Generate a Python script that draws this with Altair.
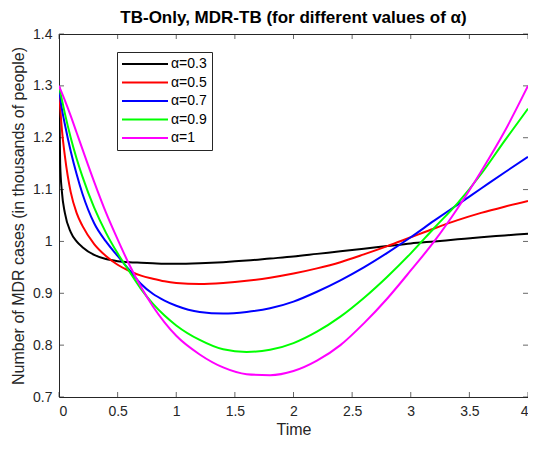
import altair as alt
import pandas as pd

# ---- data ----
t = [0, 0.01, 0.025, 0.05, 0.1, 0.15, 0.2, 0.3, 0.4, 0.5, 0.6, 0.7, 0.8, 0.9, 1.0,
     1.2, 1.4, 1.6, 1.8, 2.0, 2.2, 2.4, 2.6, 2.8, 3.0, 3.2, 3.4, 3.6, 3.8, 4.0]

alpha_03 = [1.30, 1.15, 1.095, 1.055, 1.018, 1.0, 0.989, 0.974, 0.966, 0.962, 0.960, 0.959,
            0.958, 0.957, 0.957, 0.958, 0.960, 0.963, 0.967, 0.971, 0.976, 0.981, 0.986,
            0.991, 0.996, 1.000, 1.004, 1.008, 1.0115, 1.015]
alpha_05 = [1.30, 1.26, 1.215, 1.165, 1.095, 1.055, 1.03, 0.995, 0.972, 0.955, 0.943, 0.934,
            0.928, 0.923, 0.920, 0.918, 0.920, 0.924, 0.930, 0.938, 0.948, 0.960, 0.975,
            0.991, 1.008, 1.025, 1.041, 1.055, 1.067, 1.078]
alpha_07 = [1.30, 1.278, 1.255, 1.226, 1.174, 1.130, 1.092, 1.035, 1.0, 0.972, 0.945, 0.918,
            0.899, 0.886, 0.876, 0.864, 0.861, 0.864, 0.871, 0.884, 0.903, 0.925, 0.950,
            0.978, 1.008, 1.040, 1.071, 1.102, 1.133, 1.163]
alpha_09 = [1.30, 1.289, 1.273, 1.247, 1.200, 1.160, 1.125, 1.065, 1.017, 0.977, 0.942, 0.908,
            0.880, 0.857, 0.838, 0.810, 0.792, 0.787, 0.791, 0.804, 0.826, 0.855, 0.891,
            0.932, 0.977, 1.026, 1.074, 1.130, 1.194, 1.256]
alpha_10 = [1.30, 1.294, 1.286, 1.272, 1.242, 1.210, 1.178, 1.115, 1.056, 1.004, 0.955, 0.912,
            0.875, 0.844, 0.818, 0.782, 0.757, 0.744, 0.742, 0.750, 0.770, 0.800, 0.842,
            0.890, 0.944, 1.000, 1.064, 1.135, 1.212, 1.30]

series_names = ["α=0.3", "α=0.5", "α=0.7", "α=0.9", "α=1"]
series_colors = ["#000000", "#FF0000", "#0000FF", "#00FF00", "#FF00FF"]
x_ticks = [0, 0.5, 1, 1.5, 2, 2.5, 3, 3.5, 4]
y_ticks = [0.7, 0.8, 0.9, 1.0, 1.1, 1.2, 1.3, 1.4]

rows = []
for name, vals in zip(series_names, [alpha_03, alpha_05, alpha_07, alpha_09, alpha_10]):
    for i, (tt, v) in enumerate(zip(t, vals)):
        rows.append({"Time": tt, "value": v, "series": name, "order": i})
df = pd.DataFrame(rows)

FONT = "Liberation Sans"
AX = "#262626"

xs = alt.Scale(domain=[0, 4], nice=False, zero=False)
ys = alt.Scale(domain=[0.7, 1.4], nice=False, zero=False)

lines = alt.Chart(df).mark_line(strokeWidth=2, interpolate="monotone", clip=True).encode(
    x=alt.X("Time:Q", scale=xs,
            axis=alt.Axis(title="Time", values=x_ticks, format=".1~f", grid=False,
                          ticks=False, domain=False, labelPadding=7,
                          titlePadding=3)),
    y=alt.Y("value:Q", scale=ys,
            axis=alt.Axis(title="Number of MDR cases (in thousands of people)",
                          values=y_ticks, format=".1~f", grid=False, ticks=False,
                          domain=False, labelPadding=7, titlePadding=6)),
    color=alt.Color("series:N",
                    scale=alt.Scale(domain=series_names, range=series_colors),
                    legend=alt.Legend(title=None, orient="none", legendX=58, legendY=18,
                                      symbolType="M-7,0H39", symbolSize=4,
                                      symbolStrokeWidth=2, labelFontSize=14,
                                      labelFont=FONT, labelColor="#000000",
                                      padding=5, rowPadding=4.5, labelOffset=35,
                                      strokeColor=AX, fillColor="white")),
    order="order:Q",
)

xt = pd.DataFrame({"x": x_ticks})
yt = pd.DataFrame({"y": y_ticks})

tick_style = dict(size=5, thickness=1, color=AX)
bottom_ticks = alt.Chart(xt).mark_tick(orient="vertical", yOffset=-2.5, **tick_style).encode(
    x=alt.X("x:Q", scale=xs), y=alt.datum(0.7))
top_ticks = alt.Chart(xt).mark_tick(orient="vertical", yOffset=2.5, **tick_style).encode(
    x=alt.X("x:Q", scale=xs), y=alt.datum(1.4))
left_ticks = alt.Chart(yt).mark_tick(orient="horizontal", xOffset=2.5, **tick_style).encode(
    y=alt.Y("y:Q", scale=ys), x=alt.datum(0))
right_ticks = alt.Chart(yt).mark_tick(orient="horizontal", xOffset=-2.5, **tick_style).encode(
    y=alt.Y("y:Q", scale=ys), x=alt.datum(4))

chart = alt.layer(bottom_ticks, top_ticks, left_ticks, right_ticks, lines).properties(
    width=469, height=363,
    padding={"left": 51, "top": 26, "right": 0, "bottom": 43},
    autosize=alt.AutoSizeParams(type="none"),
    title=alt.TitleParams("TB-Only, MDR-TB (for different values of α)", font=FONT,
                          fontSize=17, fontWeight="bold", color="#000000", offset=2,
                          dy=2, anchor="middle"),
).configure_view(stroke=AX, strokeWidth=1).configure_axis(
    labelFont=FONT, labelFontSize=14, labelColor=AX, titleFont=FONT, titleFontSize=16,
    titleColor=AX, titleFontWeight="normal"
)

chart.save("out.html", embed_options={"renderer": "svg", "actions": False})
